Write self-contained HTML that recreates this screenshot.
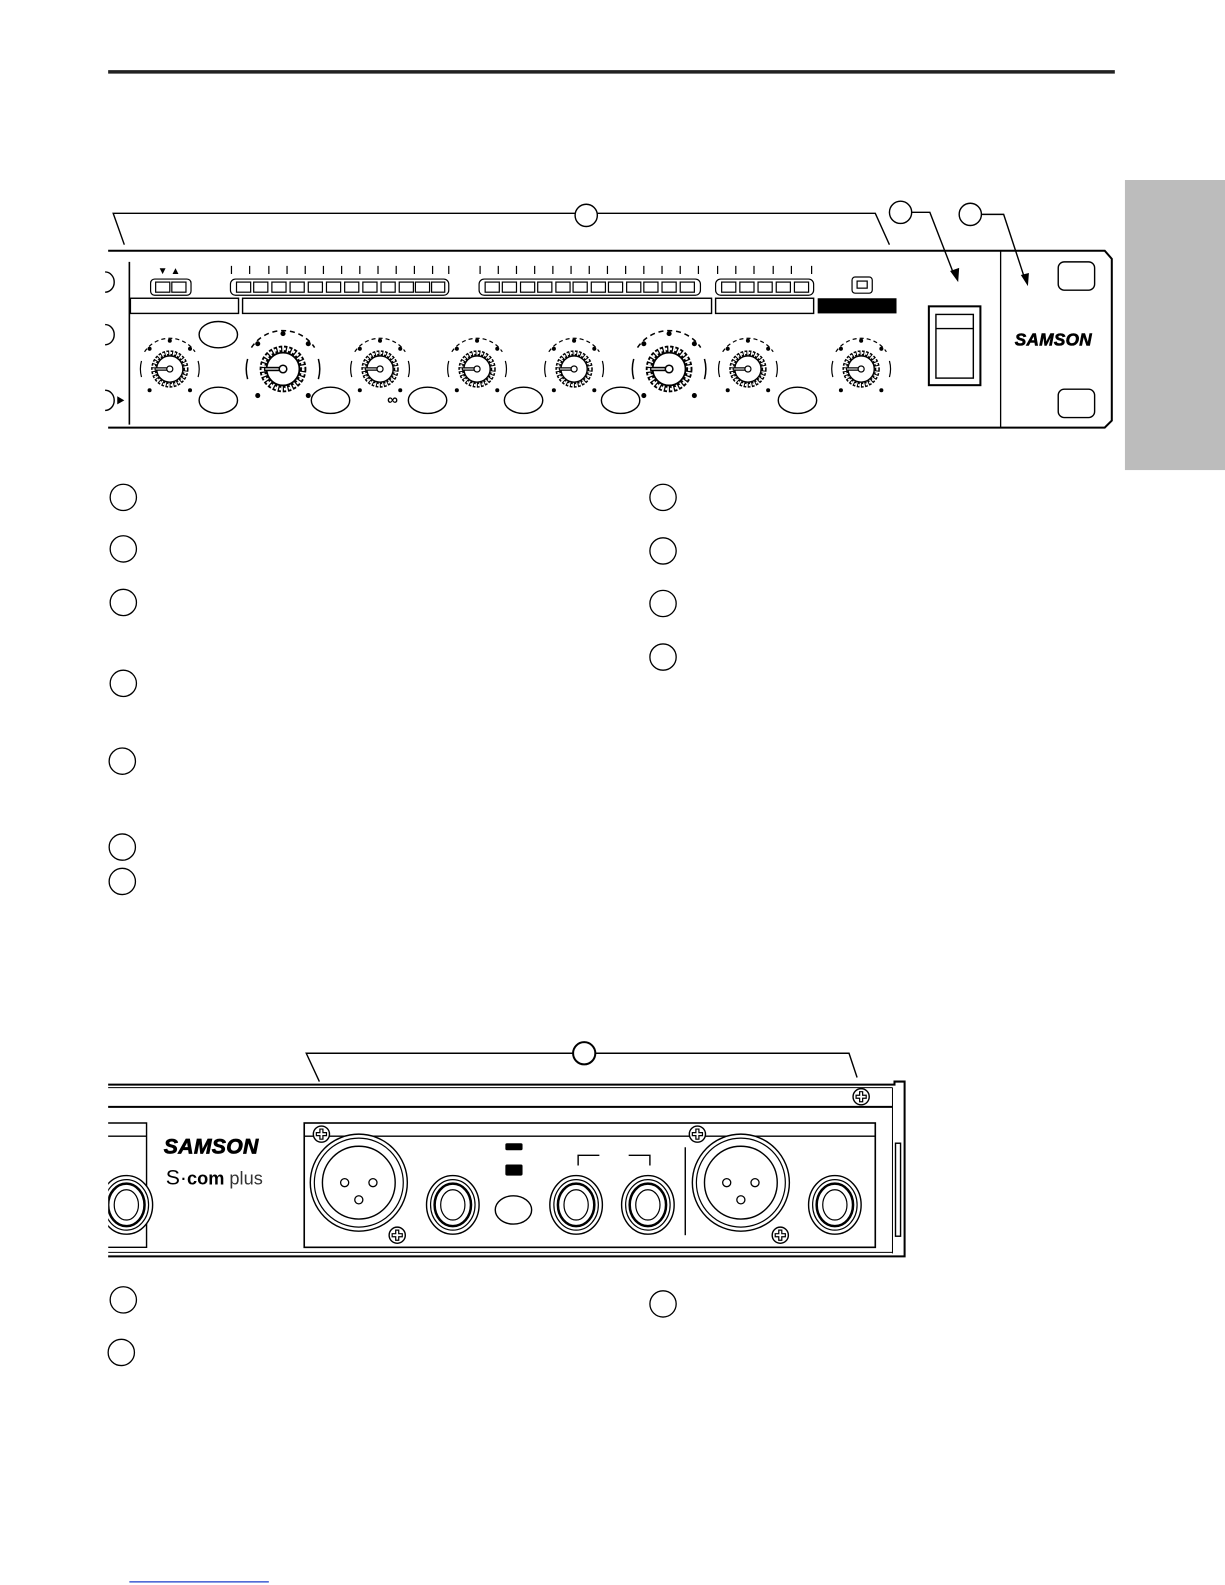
<!DOCTYPE html>
<html><head><meta charset="utf-8"><style>
html,body{margin:0;padding:0;background:#fff}
svg{display:block}
</style></head><body>
<svg width="1225" height="1585" viewBox="0 0 1212 1568" xmlns="http://www.w3.org/2000/svg" font-family="Liberation Sans, sans-serif">
<defs>
<g id="knob">
  <circle r="16" fill="none" stroke="#000" stroke-width="5" stroke-dasharray="2.5 1.3"/>
  <circle r="16" fill="none" stroke="#fff" stroke-width="2" stroke-dasharray="1.5 2.3"/>
  <circle r="13" fill="#fff" stroke="#000" stroke-width="1.4"/>
  <path d="M-25,-17 A30,30 0 0 1 25,-17" fill="none" stroke="#000" stroke-width="1.2" stroke-dasharray="4 3"/>
  <path d="M-28,8 A30,30 0 0 1 -28,-8 M28,8 A30,30 0 0 0 28,-8" fill="none" stroke="#000" stroke-width="1.2"/>
  <circle cx="0" cy="-28" r="2"/><circle cx="-20" cy="-20" r="2"/><circle cx="20" cy="-20" r="2"/>
  <circle cx="-20" cy="21" r="2"/><circle cx="20" cy="21" r="2"/>
  <line x1="-15" y1="0" x2="-3" y2="0" stroke="#000" stroke-width="3.5"/>
  <line x1="-14" y1="0" x2="-3" y2="0" stroke="#fff" stroke-width="1"/>
  <circle r="3" fill="#fff" stroke="#000" stroke-width="1.2"/>
</g>
<g id="jack">
  <ellipse rx="26" ry="29" fill="#fff" stroke="#000" stroke-width="1.4"/>
  <ellipse rx="22" ry="25" fill="none" stroke="#000" stroke-width="1.2"/>
  <ellipse rx="18" ry="21" fill="none" stroke="#000" stroke-width="2.5"/>
  <ellipse rx="12" ry="15" fill="none" stroke="#000" stroke-width="1.2"/>
</g>
<g id="screw">
  <circle r="8" fill="#fff" stroke="#000" stroke-width="1.4"/>
  <path d="M-5,-1.5H-1.5V-5H1.5V-1.5H5V1.5H1.5V5H-1.5V1.5H-5Z" fill="#fff" stroke="#000" stroke-width="1.2"/>
</g>
<g id="xlr">
  <circle r="48" fill="#fff" stroke="#000" stroke-width="1.4"/>
  <circle r="44" fill="none" stroke="#000" stroke-width="1.2"/>
  <circle r="36" fill="none" stroke="#000" stroke-width="1.4"/>
  <circle cx="-14" cy="0" r="4" fill="none" stroke="#000" stroke-width="1.3"/>
  <circle cx="14" cy="0" r="4" fill="none" stroke="#000" stroke-width="1.3"/>
  <circle cx="0" cy="17" r="4" fill="none" stroke="#000" stroke-width="1.3"/>
</g>
</defs>

<line x1="107" y1="71" x2="1103" y2="71" stroke="#222" stroke-width="3.5"/>
<rect x="1113" y="178" width="99" height="287" fill="#bcbcbc"/>

<g fill="none" stroke="#000" stroke-width="1.4">
<path d="M123,242 L112,211 L866,211 L880,242"/>
<circle cx="580" cy="213" r="11" fill="#fff"/>
<circle cx="891" cy="210" r="11" fill="#fff"/>
<circle cx="960" cy="212" r="11" fill="#fff"/>
<path d="M902,210 H920 L944,272"/>
<path d="M971,212 H993 L1014,276"/>
</g>
<path d="M940,268 L948,279 L949,265Z M1010,272 L1017,283 L1018,270Z"/>

<g fill="none" stroke="#000" stroke-width="2">
<path d="M107,248 H1093 L1100,256 V416 L1093,423 H107"/>
<line x1="990" y1="248" x2="990" y2="423" stroke-width="1.3"/>
<line x1="128" y1="259" x2="128" y2="420" stroke-width="1.6"/>
</g>
<g fill="none" stroke="#000" stroke-width="1.4">
<path d="M104,269 A9,10 0 0 1 104,289"/>
<path d="M104,321 A9,10 0 0 1 104,341"/>
<path d="M104,386 A9,10 0 0 1 104,406"/>
<rect x="1047" y="259" width="36" height="28" rx="6"/>
<rect x="1047" y="385" width="36" height="28" rx="6"/>
<rect x="919" y="303" width="51" height="78" stroke-width="2"/>
<rect x="926" y="311" width="37" height="63"/>
<line x1="926" y1="325" x2="963" y2="325"/>
</g>
<path d="M116,392 L123,396 L116,400Z"/>
<text x="1004" y="342" font-size="17" font-weight="bold" font-style="italic" stroke="#000" stroke-width="0.6" letter-spacing="0.3">SAMSON</text>

<g fill="none" stroke="#000" stroke-width="1.2">
<text x="156" y="271" font-size="10" fill="#000" stroke="none">▼ ▲</text>
<rect x="149" y="276" width="40" height="16" rx="4"/>
<rect x="154" y="279" width="14" height="10"/><rect x="170" y="279" width="14" height="10"/>
<rect x="228" y="276" width="216" height="16" rx="5"/>
<rect x="474" y="276" width="219" height="16" rx="5"/>
<rect x="708" y="276" width="97" height="16" rx="5"/>
<rect x="843" y="274" width="20" height="16" rx="3"/>
<rect x="848" y="278" width="10" height="7"/>
<rect x="129" y="295" width="107" height="15" stroke-width="1.4"/>
<rect x="240" y="295" width="464" height="15" stroke-width="1.4"/>
<rect x="708" y="295" width="97" height="15" stroke-width="1.4"/>
</g>
<rect x="809" y="295" width="78" height="15"/>
<g fill="none" stroke="#000" stroke-width="1.2">
<rect x="234" y="279" width="14" height="10"/><rect x="251" y="279" width="14" height="10"/><rect x="269" y="279" width="14" height="10"/><rect x="287" y="279" width="14" height="10"/><rect x="305" y="279" width="14" height="10"/><rect x="323" y="279" width="14" height="10"/><rect x="341" y="279" width="14" height="10"/><rect x="359" y="279" width="14" height="10"/><rect x="377" y="279" width="14" height="10"/><rect x="395" y="279" width="14" height="10"/><rect x="411" y="279" width="14" height="10"/><rect x="427" y="279" width="13" height="10"/>
<rect x="480" y="279" width="14" height="10"/><rect x="497" y="279" width="14" height="10"/><rect x="515" y="279" width="14" height="10"/><rect x="532" y="279" width="14" height="10"/><rect x="550" y="279" width="14" height="10"/><rect x="567" y="279" width="14" height="10"/><rect x="585" y="279" width="14" height="10"/><rect x="602" y="279" width="14" height="10"/><rect x="620" y="279" width="14" height="10"/><rect x="637" y="279" width="14" height="10"/><rect x="655" y="279" width="14" height="10"/><rect x="673" y="279" width="14" height="10"/>
<rect x="714" y="279" width="14" height="10"/><rect x="732" y="279" width="14" height="10"/><rect x="750" y="279" width="14" height="10"/><rect x="768" y="279" width="14" height="10"/><rect x="786" y="279" width="14" height="10"/>
</g>
<g stroke="#000" stroke-width="1.2">
<path d="M229,263v8M247,263v8M266,263v8M284,263v8M302,263v8M320,263v8M338,263v8M356,263v8M374,263v8M392,263v8M410,263v8M428,263v8M444,263v8"/>
<path d="M475,263v8M493,263v8M511,263v8M529,263v8M547,263v8M565,263v8M583,263v8M601,263v8M619,263v8M637,263v8M655,263v8M673,263v8M691,263v8"/>
<path d="M710,263v8M728,263v8M746,263v8M765,263v8M783,263v8M803,263v8"/>
</g>

<use href="#knob" x="168" y="365"/>
<use href="#knob" transform="translate(280,365) scale(1.25)"/>
<use href="#knob" x="376" y="365"/>
<use href="#knob" x="472" y="365"/>
<use href="#knob" x="568" y="365"/>
<use href="#knob" transform="translate(662,365) scale(1.25)"/>
<use href="#knob" x="740" y="365"/>
<use href="#knob" x="852" y="365"/>
<text x="383" y="400" font-size="15" font-weight="bold">∞</text>
<g fill="#fff" stroke="#000" stroke-width="1.4">
<ellipse cx="216" cy="331" rx="19" ry="13"/>
<ellipse cx="216" cy="396" rx="19" ry="13"/>
<ellipse cx="327" cy="396" rx="19" ry="13"/>
<ellipse cx="423" cy="396" rx="19" ry="13"/>
<ellipse cx="518" cy="396" rx="19" ry="13"/>
<ellipse cx="614" cy="396" rx="19" ry="13"/>
<ellipse cx="789" cy="396" rx="19" ry="13"/>
</g>

<g fill="none" stroke="#000" stroke-width="1.3">
<circle cx="122" cy="492" r="13"/><circle cx="122" cy="543" r="13"/><circle cx="122" cy="596" r="13"/>
<circle cx="122" cy="676" r="13"/><circle cx="121" cy="753" r="13"/><circle cx="121" cy="838" r="13"/><circle cx="121" cy="872" r="13"/>
<circle cx="656" cy="492" r="13"/><circle cx="656" cy="545" r="13"/><circle cx="656" cy="597" r="13"/><circle cx="656" cy="650" r="13"/>
<circle cx="122" cy="1286" r="13"/><circle cx="120" cy="1338" r="13"/><circle cx="656" cy="1290" r="13"/>
</g>

<g fill="none" stroke="#000" stroke-width="1.4">
<path d="M316,1070 L303,1042 H840 L848,1066"/>
<circle cx="578" cy="1042" r="11" fill="#fff" stroke-width="2"/>
<path d="M107,1073 H885 V1070 H895 V1243 H107" stroke-width="2"/>
<line x1="107" y1="1076" x2="883" y2="1076" stroke-width="1"/>
<line x1="883" y1="1076" x2="883" y2="1240" stroke-width="1"/>
<line x1="107" y1="1239" x2="883" y2="1239" stroke-width="1"/>
<line x1="107" y1="1095" x2="883" y2="1095" stroke-width="2"/>
<rect x="301" y="1111" width="565" height="123" stroke-width="1.6"/>
<line x1="301" y1="1124" x2="866" y2="1124"/>
<path d="M107,1111 H145 V1234 H107 M107,1124 H145"/>
<line x1="678" y1="1135" x2="678" y2="1222"/>
<rect x="886" y="1131" width="5" height="92"/>
<path d="M572,1153 V1143 H593 M622,1143 H643 V1153"/>
</g>
<rect x="500" y="1131" width="17" height="7" rx="1.5"/>
<rect x="500" y="1152" width="17" height="11" rx="1.5"/>
<use href="#jack" x="125" y="1192"/>
<rect x="96" y="1150" width="11" height="90" fill="#fff"/>
<use href="#xlr" x="355" y="1170"/>
<use href="#xlr" x="733" y="1170"/>
<use href="#jack" x="448" y="1192"/>
<use href="#jack" x="570" y="1192"/>
<use href="#jack" x="641" y="1192"/>
<use href="#jack" x="826" y="1192"/>
<ellipse cx="508" cy="1197" rx="18" ry="14" fill="#fff" stroke="#000" stroke-width="1.4"/>
<use href="#screw" x="318" y="1122"/><use href="#screw" x="393" y="1222"/>
<use href="#screw" x="690" y="1122"/><use href="#screw" x="772" y="1222"/>
<use href="#screw" x="852" y="1085"/>
<text x="162" y="1141" font-size="21" font-weight="bold" font-style="italic" stroke="#000" stroke-width="0.7" letter-spacing="0.3">SAMSON</text>
<text x="164" y="1172" font-size="21"><tspan>S·</tspan><tspan font-weight="bold" font-size="18">com</tspan><tspan font-size="18" fill="#333"> plus</tspan></text>

<line x1="128" y1="1565" x2="266" y2="1565" stroke="#1a3cc8" stroke-width="1.2"/>
</svg>
</body></html>
